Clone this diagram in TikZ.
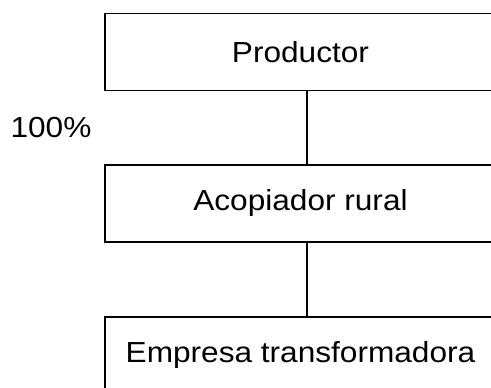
\documentclass[tikz,border=0pt]{standalone}
\usepackage{fontspec}
\usepackage{graphicx}
\setmainfont{Liberation Sans}
\tikzset{
  flowbox/.style={draw=black, line width=1.6pt, minimum width=391pt, minimum height=77pt, inner sep=0pt, font=\fontsize{29}{34}\selectfont},
  link/.style={draw=black, line width=1.6pt},
  lbl/.style={inner sep=0pt, font=\fontsize{29}{34}\selectfont}
}
\newcommand{\wtext}[1]{\scalebox{1.09}[1]{#1}}
\begin{document}
\begin{tikzpicture}[x=1pt,y=-1pt]
  \clip (0,0) rectangle (491,388);
  \fill[white] (0,0) rectangle (491,388);
  \node[flowbox] (b1) at (300.5,52) {\wtext{Productor}};
  \node[flowbox] (b2) at (300.5,203.5) {\wtext{Acopiador rural}};
  \node[flowbox] (b3) at (300.5,355.5) {\wtext{Empresa transformadora}};
  \node[lbl] (pct) at (51,128) {\wtext{100\%}};
  \draw[link] ([xshift=6.5pt]b1.south) -- ([xshift=6.5pt]b2.north);
  \draw[link] ([xshift=6.5pt]b2.south) -- ([xshift=6.5pt]b3.north);
\end{tikzpicture}
\end{document}
